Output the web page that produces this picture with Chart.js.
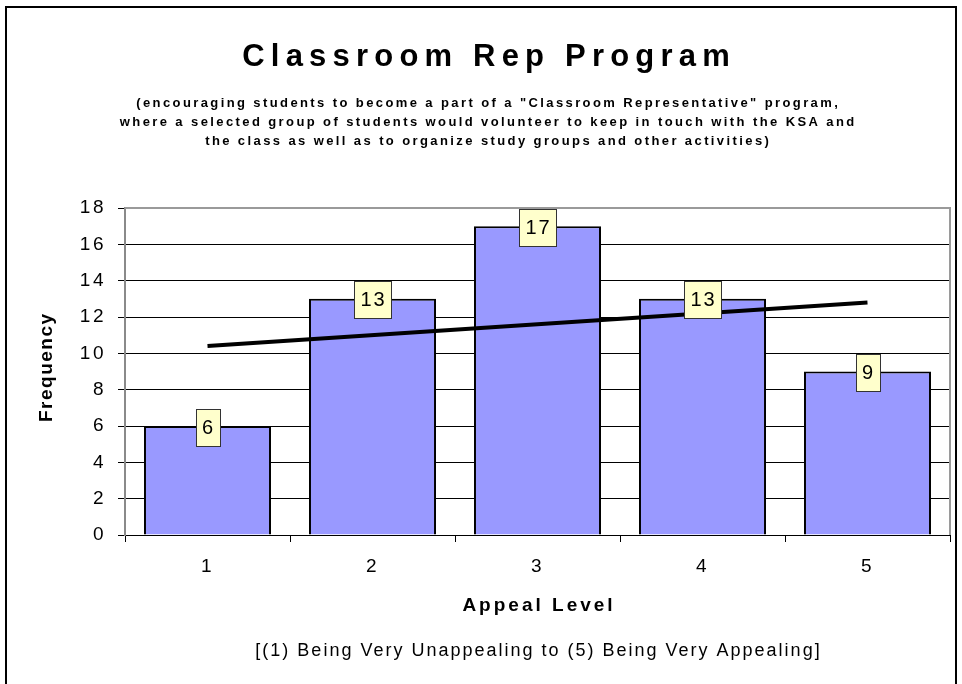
<!DOCTYPE html>
<html>
<head>
<meta charset="utf-8">
<script src="https://cdn.jsdelivr.net/npm/chart.js@4.4.1/dist/chart.umd.min.js"></script>
<style>
    body { margin: 0; background: #fff; }
    #frame { position: absolute; left: 5px; top: 6px; width: 948px; height: 700px; border: 2px solid #000; }
    #myChart { position: absolute; left: 0; top: 0; }
</style>
</head>
<body>
<div id="frame"></div>
<canvas id="myChart" width="962" height="684"></canvas>
<script>
// appeal levels and how many students picked each one
const appealLevels = ["1", "2", "3", "4", "5"];
const frequency = [6, 13, 17, 13, 9];
// trend line (only the two end points are drawn)
const trendValues = [10.4, null, null, null, 12.8];
const yTicks = [0, 2, 4, 6, 8, 10, 12, 14, 16, 18];

const titleText = "Classroom Rep Program";
const subtitleLines = [
    '(encouraging students to become a part of a "Classroom Representative" program,',
    "where a selected group of students would volunteer to keep in touch with the KSA and",
    "the class as well as to organize study groups and other activities)"
];
const xTitle = "Appeal Level";
const yTitle = "Frequency";
const footerText = "[(1) Being Very Unappealing to (5) Being Very Appealing]";

const font = "'Liberation Sans', Arial, sans-serif";

// little helper for spaced-out text
function spacedText(ctx, text, x, y, style, spacing) {
    ctx.font = style;
    ctx.letterSpacing = spacing + "px";
    // trailing spacing pushes centered text left, so nudge it back
    ctx.fillText(text, x + spacing / 2, y);
}

// texts that are not part of the axes: title, subtitle, axis titles, note
const textPlugin = {
    id: "texts",
    beforeDraw(chart) {
        chart.ctx.letterSpacing = "2.5px";
    },
    afterDraw(chart) {
        const ctx = chart.ctx;
        const area = chart.chartArea;
        const midPlot = (area.left + area.right) / 2;
        ctx.save();
        ctx.fillStyle = "#000";
        ctx.textAlign = "center";
        ctx.textBaseline = "alphabetic";

        spacedText(ctx, titleText, 486, 66, "bold 31px " + font, 6.2);

        subtitleLines.forEach((line, i) => {
            spacedText(ctx, line, 487, 107 + i * 19, "bold 13px " + font, 2.4);
        });

        spacedText(ctx, xTitle, midPlot, 611, "bold 19px " + font, 3);
        spacedText(ctx, footerText, midPlot, 656, "18px " + font, 2);

        ctx.save();
        ctx.translate(52, 368);
        ctx.rotate(-Math.PI / 2);
        spacedText(ctx, yTitle, 0, 0, "bold 19px " + font, 1.5);
        ctx.restore();

        // plot area border (top and right), grey like the axis lines
        ctx.strokeStyle = "#9a9a9a";
        ctx.lineWidth = 2;
        ctx.beginPath();
        ctx.moveTo(area.left, area.top);
        ctx.lineTo(area.right, area.top);
        ctx.lineTo(area.right, area.bottom);
        ctx.stroke();
        ctx.restore();
    }
};

// yellow value boxes on top of each bar
const valueBoxPlugin = {
    id: "valueBoxes",
    afterDatasetsDraw(chart) {
        const ctx = chart.ctx;
        const meta = chart.getDatasetMeta(1);
        ctx.save();
        ctx.font = "20px " + font;
        ctx.letterSpacing = "2px";
        ctx.textAlign = "center";
        ctx.textBaseline = "middle";
        meta.data.forEach((bar, i) => {
            const label = String(frequency[i]);
            const w = Math.round(ctx.measureText(label).width) + 11;
            const h = 37;
            const x = Math.round(bar.x - w / 2) + 0.5;
            const y = Math.round(bar.y + 1 - h / 2) + 0.5;
            ctx.fillStyle = "#FFFFCC";
            ctx.fillRect(x, y, w, h);
            ctx.strokeStyle = "#333";
            ctx.lineWidth = 1;
            ctx.strokeRect(x, y, w, h);
            ctx.fillStyle = "#000";
            ctx.fillText(label, bar.x + 1, bar.y + 2);
        });
        ctx.restore();
    }
};

new Chart("myChart", {
    type: "bar",
    data: {
        labels: appealLevels,
        datasets: [
            {
                type: "line",
                data: trendValues,
                borderColor: "#000",
                borderWidth: 4,
                pointRadius: 0,
                spanGaps: true,
                order: 1
            },
            {
                data: frequency,
                backgroundColor: "#9999FF",
                borderColor: "#000",
                borderWidth: 2,
                barPercentage: 0.77,
                categoryPercentage: 1,
                order: 2
            }
        ]
    },
    options: {
        responsive: false,
        animation: false,
        layout: { padding: { top: 208, right: 12, left: 0, bottom: 0 } },
        plugins: {
            legend: { display: false },
            tooltip: { enabled: false }
        },
        scales: {
            x: {
                offset: true,
                grid: { offset: true, drawOnChartArea: false, color: "#000", tickLength: 7 },
                border: { color: "#000", width: 1 },
                ticks: { color: "#000", font: { family: font, size: 19 }, padding: 13 },
                afterFit(scale) { scale.height = 149; }
            },
            y: {
                min: 0,
                max: 18,
                afterBuildTicks(scale) { scale.ticks = yTicks.map(v => ({ value: v })); },
                grid: {
                    color: ctx => ctx.tick && ctx.tick.value === 18 ? "rgba(0,0,0,0)" : "#000",
                    tickColor: "#000",
                    tickLength: 7
                },
                border: { color: "#8a8a8a", width: 2 },
                ticks: { color: "#000", font: { family: font, size: 19 }, padding: 12 },
                afterFit(scale) { scale.width = 125; }
            }
        }
    },
    plugins: [textPlugin, valueBoxPlugin]
});
</script>
</body>
</html>
